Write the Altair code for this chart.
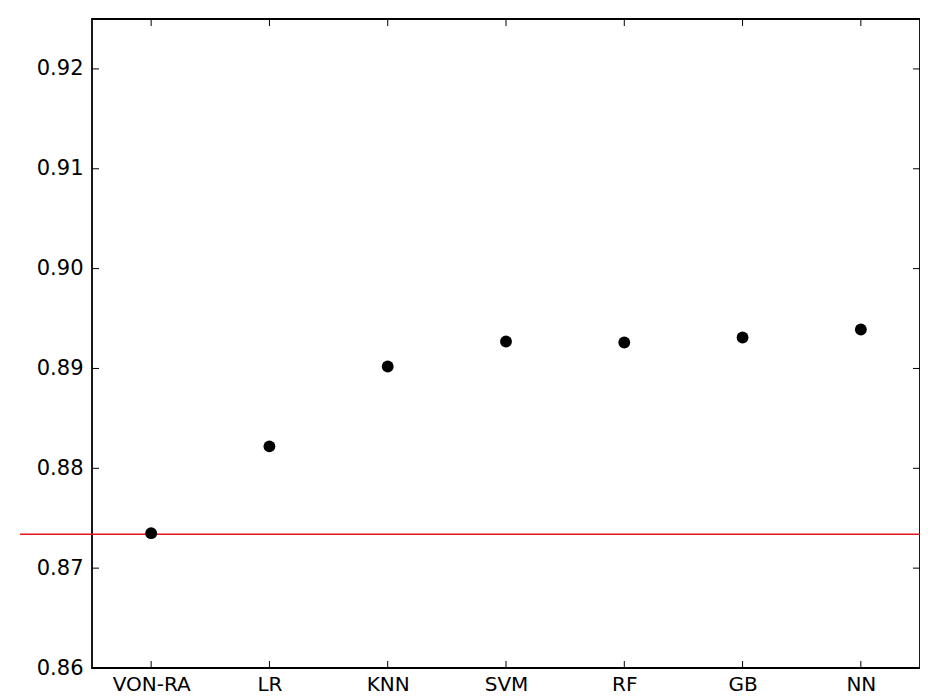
import altair as alt
import pandas as pd

methods = ["VON-RA", "LR", "KNN", "SVM", "RF", "GB", "NN"]
scores = [0.8735, 0.8822, 0.8902, 0.8927, 0.8926, 0.8931, 0.8939]
baseline = 0.8734
y_ticks = [0.86, 0.87, 0.88, 0.89, 0.90, 0.91, 0.92]

W, H = 828, 649
TL = 7
FONT = "DejaVu Sans"

df = pd.DataFrame({"method": methods, "score": scores})
ticks_df = pd.DataFrame({"v": y_ticks})

xs = alt.Scale(type="point", domain=methods, padding=0.5)
ys = alt.Scale(domain=[0.86, 0.925], nice=False, zero=False)

x_enc = alt.X("method:N", scale=xs, sort=methods,
              axis=alt.Axis(title=None, ticks=False, domain=False, grid=False,
                            labelAngle=0, labelFont=FONT, labelFontSize=20,
                            labelColor="black", labelPadding=6))
y_enc = alt.Y("score:Q", scale=ys,
              axis=alt.Axis(title=None, ticks=False, domain=False, grid=False,
                            values=y_ticks, format=".2f", labelFont=FONT,
                            labelFontSize=21, labelColor="black", labelPadding=9))

base_line = alt.Chart(pd.DataFrame({"b": [baseline]})).mark_rule(
    color="#e8141b", strokeWidth=1.6, clip=False
).encode(y=alt.Y("b:Q", scale=ys), x=alt.value(-72), x2=alt.value(W))

points = alt.Chart(df).mark_circle(size=140, color="black", opacity=1).encode(
    x=x_enc, y=y_enc
)

yl = alt.Chart(ticks_df).mark_rule(color="black", strokeWidth=1).encode(
    y=alt.Y("v:Q", scale=ys), x=alt.value(0), x2=alt.value(TL))
yr = alt.Chart(ticks_df).mark_rule(color="black", strokeWidth=1).encode(
    y=alt.Y("v:Q", scale=ys), x=alt.value(W - TL), x2=alt.value(W))
xb = alt.Chart(df).mark_rule(color="black", strokeWidth=1).encode(
    x=alt.X("method:N", scale=xs, sort=methods), y=alt.value(H - TL), y2=alt.value(H))
xt = alt.Chart(df).mark_rule(color="black", strokeWidth=1).encode(
    x=alt.X("method:N", scale=xs, sort=methods), y=alt.value(0), y2=alt.value(TL))

chart = alt.layer(base_line, points, yl, yr, xb, xt).properties(
    width=W, height=H,
    background="white",
    autosize=alt.AutoSizeParams(type="none"),
    padding={"left": 84, "top": 11, "right": 0, "bottom": 30},
).configure_view(stroke="black", strokeWidth=1.8, strokeOpacity=1)

chart.save("out.html", embed_options={"renderer": "svg", "actions": False})
